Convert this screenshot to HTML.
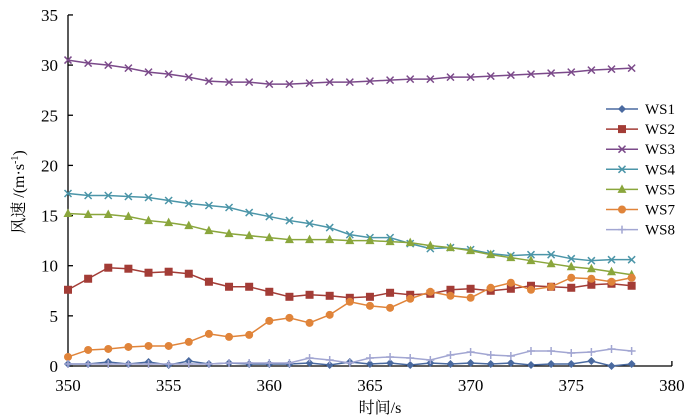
<!DOCTYPE html>
<html><head><meta charset="utf-8"><style>
html,body{margin:0;padding:0;background:#fff;}
svg{display:block;}
text{font-family:"Liberation Serif","Times New Roman","Noto Serif CJK SC",serif;}
</style></head><body>
<svg id="s" width="700" height="420" viewBox="0 0 700 420" xmlns="http://www.w3.org/2000/svg" font-family="Liberation Serif, Noto Serif CJK SC, serif">
<rect width="700" height="420" fill="#fff"/>
<g id="ax" stroke="#000" stroke-width="1.3" fill="none"></g>
<g id="lab" font-size="17" fill="#000"></g>
<g id="ser"></g>
<g id="leg" font-size="15" fill="#000"></g>
<text x="0" y="0" font-size="16" transform="translate(24,192) rotate(-90)" text-anchor="middle">风速 /(m·s<tspan font-size="10" dy="-6">-1</tspan><tspan dy="6">)</tspan></text>
<text x="380" y="413" font-size="16" text-anchor="middle">时间/s</text>
</svg>
<script>
var NS="http://www.w3.org/2000/svg";
function X(t){return 68+(t-350)*20.13;}
function Y(v){return 366-v*10.03;}
function el(p,n,a,txt){var e=document.createElementNS(NS,n);for(var k in a)e.setAttribute(k,a[k]);if(txt!=null)e.textContent=txt;p.appendChild(e);return e;}
var ax=document.getElementById('ax'),lab=document.getElementById('lab');
el(ax,'line',{x1:68,y1:15,x2:68,y2:366});
el(ax,'line',{x1:68,y1:366,x2:672,y2:366});
for(var v=0;v<=35;v+=5){el(ax,'line',{x1:68,y1:Y(v),x2:73,y2:Y(v)});el(lab,'text',{x:58,y:Y(v)+6,'text-anchor':'end'},String(v));}
for(var t=350;t<=380;t+=5){el(ax,'line',{x1:X(t),y1:366,x2:X(t),y2:361});el(lab,'text',{x:X(t),y:391,'text-anchor':'middle'},String(t));}
var D=[
["WS1","#4a6aa0","d",[0.2,0.2,0.4,0.2,0.4,0.1,0.5,0.2,0.3,0.2,0.2,0.2,0.3,0.1,0.4,0.2,0.3,0.1,0.3,0.2,0.3,0.2,0.3,0.1,0.2,0.2,0.5,0.0,0.2]],
["WS2","#a33c36","s",[7.6,8.7,9.8,9.7,9.3,9.4,9.2,8.4,7.9,7.9,7.4,6.9,7.1,7.0,6.8,6.9,7.3,7.1,7.2,7.6,7.7,7.5,7.7,8.0,7.9,7.8,8.1,8.2,8.0]],
["WS3","#7b4a8a","x",[30.5,30.2,30.0,29.7,29.3,29.1,28.8,28.4,28.3,28.3,28.1,28.1,28.2,28.3,28.3,28.4,28.5,28.6,28.6,28.8,28.8,28.9,29.0,29.1,29.2,29.3,29.5,29.6,29.7]],
["WS4","#4b95a8","x",[17.2,17.0,17.0,16.9,16.8,16.5,16.2,16.0,15.8,15.3,14.9,14.5,14.2,13.8,13.1,12.8,12.8,12.2,11.7,11.8,11.6,11.2,11.0,11.1,11.1,10.7,10.5,10.6,10.6]],
["WS5","#8aa63c","t",[15.2,15.1,15.1,14.9,14.5,14.3,14.0,13.5,13.2,13.0,12.8,12.6,12.6,12.6,12.5,12.5,12.4,12.3,12.0,11.8,11.5,11.1,10.8,10.5,10.2,9.9,9.7,9.4,9.1]],
["WS7","#e0843a","c",[0.9,1.6,1.7,1.9,2.0,2.0,2.4,3.2,2.9,3.1,4.5,4.8,4.3,5.1,6.4,6.0,5.8,6.7,7.4,7.0,6.8,7.8,8.3,7.6,7.9,8.8,8.7,8.4,8.8]],
["WS8","#a2a6d2","p",[0.2,0.2,0.2,0.2,0.2,0.2,0.2,0.2,0.3,0.3,0.3,0.3,0.8,0.6,0.3,0.8,0.9,0.8,0.6,1.1,1.4,1.1,1.0,1.5,1.5,1.3,1.4,1.7,1.5]]
];
var ser=document.getElementById('ser'),leg=document.getElementById('leg');
function mk(g,m,x,y,c){
 if(m=="d")el(g,'polygon',{points:(x)+","+(y-4)+" "+(x+4)+","+y+" "+x+","+(y+4)+" "+(x-4)+","+y,fill:c});
 else if(m=="s")el(g,'rect',{x:x-4,y:y-4,width:8,height:8,fill:c});
 else if(m=="t")el(g,'polygon',{points:x+","+(y-5)+" "+(x+4.5)+","+(y+3.5)+" "+(x-4.5)+","+(y+3.5),fill:c});
 else if(m=="c")el(g,'circle',{cx:x,cy:y,r:4,fill:c});
 else if(m=="x"){el(g,'path',{d:"M"+(x-3.5)+" "+(y-3.5)+"L"+(x+3.5)+" "+(y+3.5)+"M"+(x+3.5)+" "+(y-3.5)+"L"+(x-3.5)+" "+(y+3.5),stroke:c,'stroke-width':1.5});}
 else if(m=="p"){el(g,'path',{d:"M"+(x-4)+" "+y+"L"+(x+4)+" "+y+"M"+x+" "+(y-4)+"L"+x+" "+(y+4),stroke:c,'stroke-width':1.5});}
}
D.forEach(function(s,i){
 var g=el(ser,'g',{});var pts=s[3].map(function(v,k){return X(350+k)+","+Y(v);}).join(" ");
 el(g,'polyline',{points:pts,fill:'none',stroke:s[1],'stroke-width':1.5});
 s[3].forEach(function(v,k){mk(g,s[2],X(350+k),Y(v),s[1]);});
 var ly=109+i*20.1;
 el(leg,'line',{x1:606,y1:ly,x2:638,y2:ly,stroke:s[1],'stroke-width':1.5});
 mk(leg,s[2],622,ly,s[1]);
 el(leg,'text',{x:645,y:ly+5},s[0]);
});
</script>
</body></html>
